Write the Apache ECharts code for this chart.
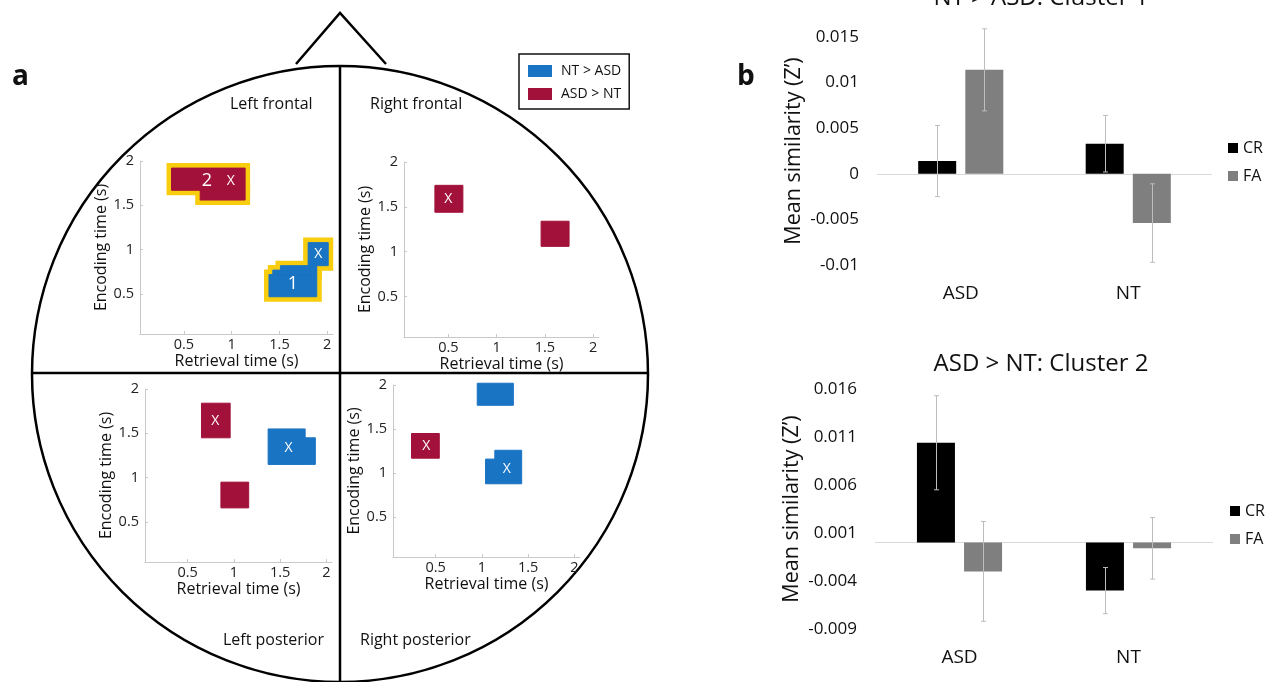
<!DOCTYPE html>
<html>
<head>
<meta charset="utf-8">
<script src="https://cdn.jsdelivr.net/npm/echarts@6/dist/echarts.min.js"></script>
<style>html,body{margin:0;padding:0;background:#fff}#c{width:1269px;height:682px}</style>
</head>
<body>
<div id="c"></div>
<script>
// ---------------- DATA ----------------
const quadrantNames = ['Left frontal', 'Right frontal', 'Left posterior', 'Right posterior'];
const timeTicks = [0.5, 1, 1.5, 2];
const timeRange = [0.04, 2.06];
const encRange = [0.05, 2.0];

// clusters as cell rectangles [retrieval0, retrieval1, encoding0, encoding1] per quadrant
const ntGtAsd = [
  [[1.39, 1.89, 0.47, 0.72], [1.43, 1.89, 0.72, 0.77], [1.51, 1.89, 0.77, 0.82], [1.80, 2.01, 0.82, 1.08]],
  [],
  [[1.37, 1.77, 1.15, 1.55], [1.77, 1.88, 1.15, 1.45]],
  [[0.95, 1.34, 1.77, 2.02], [1.14, 1.43, 0.88, 1.26], [1.04, 1.14, 0.88, 1.16]]
];
const asdGtNt = [
  [[0.37, 1.14, 1.67, 1.92], [0.67, 1.14, 1.56, 1.67]],
  [[0.36, 0.65, 1.44, 1.74], [1.46, 1.75, 1.06, 1.34]],
  [[0.65, 0.96, 1.45, 1.84], [0.86, 1.16, 0.66, 0.95]],
  [[0.24, 0.54, 1.17, 1.45]]
];
// clusters highlighted with yellow outline (cluster 1 and cluster 2)
const highlighted = [
  [[1.39, 1.89, 0.47, 0.72], [1.43, 1.89, 0.72, 0.77], [1.51, 1.89, 0.77, 0.82], [1.80, 2.01, 0.82, 1.08],
   [0.37, 1.14, 1.67, 1.92], [0.67, 1.14, 1.56, 1.67]],
  [], [], []
];
// "X" peak markers [retrieval, encoding]
const peakMarks = [
  [[1.905, 0.95], [0.99, 1.78]],
  [[0.50, 1.59]],
  [[0.80, 1.64], [1.59, 1.33]],
  [[0.40, 1.31], [1.27, 1.05]]
];
// cluster numbers [retrieval, encoding, label]
const clusterNumbers = [
  [[1.64, 0.62, '1'], [0.74, 1.78, '2']],
  [], [], []
];
const legendNames = ['NT > ASD', 'ASD > NT'];

// bar charts
const groups = ['ASD', 'NT'];
const condNames = ['CR', 'FA'];
const c1CR = [0.0014, 0.0033];
const c1FA = [0.0114, -0.0054];
const c1CRerr = [0.0039, 0.0031];
const c1FAerr = [0.0045, 0.0043];
const c2CR = [0.0104, -0.0050];
const c2FA = [-0.0030, -0.0006];
const c2CRerr = [0.0049, 0.0024];
const c2FAerr = [0.0052, 0.0032];
const c2Ticks = [-0.009, -0.004, 0.001, 0.006, 0.011, 0.016];
const titles = ['NT > ASD: Cluster 1', 'ASD > NT: Cluster 2'];

// ---------------- STYLE ----------------
const FONT = '"Open Sans", sans-serif';
const BLUE = '#1a74c4';
const RED = '#a2113a';
const YELLOW = '#f7cd0e';
const BAR_W = 38, BAR_GAP = 0.24;

const miniGrids = [
  {left: 140, top: 161, width: 193, height: 173},
  {left: 404, top: 162, width: 195, height: 175},
  {left: 145, top: 389, width: 187, height: 173},
  {left: 393, top: 385, width: 187, height: 172}
];
const barGrids = [
  {left: 877, top: 37, width: 335, height: 228},
  {left: 875, top: 389, width: 338, height: 240}
];

function rectRender(color, lw) {
  return function (params, api) {
    const p0 = api.coord([api.value(0), api.value(3)]);
    const p1 = api.coord([api.value(1), api.value(2)]);
    return {type: 'rect', shape: {x: p0[0], y: p0[1], width: p1[0] - p0[0], height: p1[1] - p0[1]},
      style: {fill: color, stroke: color, lineWidth: lw}};
  };
}
function textRender(arr, size) {
  return function (params, api) {
    const p = api.coord([api.value(0), api.value(1)]);
    const t = arr[params.dataIndex][2] || 'X';
    return {type: 'text', x: p[0], y: p[1],
      style: {text: t, fill: '#fff', font: size + 'px ' + FONT, align: 'center', verticalAlign: 'middle'}};
  };
}
function errRender(sign) {
  return function (params, api) {
    const cat = api.value(0);
    const lo = api.coord([cat, api.value(1)]);
    const hi = api.coord([cat, api.value(2)]);
    const x = Math.round(lo[0] + sign * (BAR_W + BAR_W * BAR_GAP) / 2) + 0.5;
    const st = {stroke: '#bdbdbd', lineWidth: 1};
    return {type: 'group', children: [
      {type: 'line', shape: {x1: x, y1: lo[1], x2: x, y2: hi[1]}, style: st},
      {type: 'line', shape: {x1: x - 2.5, y1: lo[1], x2: x + 2.5, y2: lo[1]}, style: st},
      {type: 'line', shape: {x1: x - 2.5, y1: hi[1], x2: x + 2.5, y2: hi[1]}, style: st}
    ]};
  };
}

const grid = [], xAxis = [], yAxis = [], series = [];
miniGrids.forEach(function (g, i) {
  grid.push(Object.assign({containLabel: false}, g));
  xAxis.push({
    type: 'value', gridIndex: i, min: timeRange[0], max: timeRange[1],
    name: 'Retrieval time (s)', nameLocation: 'middle', nameGap: 19,
    nameTextStyle: {fontSize: 16, color: '#111', fontFamily: FONT},
    axisLine: {show: true, onZero: false, lineStyle: {color: '#c9c9c9', width: 1}},
    axisTick: {show: true, inside: true, length: 3, customValues: timeTicks, lineStyle: {color: '#c9c9c9'}},
    axisLabel: {customValues: timeTicks, fontSize: 14.5, color: '#222', margin: 3, fontFamily: FONT,
      formatter: function (v) { return String(v); }},
    splitLine: {show: false}
  });
  yAxis.push({
    type: 'value', gridIndex: i, min: encRange[0], max: encRange[1],
    name: 'Encoding time (s)', nameLocation: 'middle', nameGap: 29,
    nameTextStyle: {fontSize: 16, color: '#111', fontFamily: FONT},
    axisLine: {show: true, onZero: false, lineStyle: {color: '#c9c9c9', width: 1}},
    axisTick: {show: true, inside: true, length: 3, customValues: timeTicks, lineStyle: {color: '#c9c9c9'}},
    axisLabel: {customValues: timeTicks, fontSize: 14.5, color: '#222', margin: 6, fontFamily: FONT,
      formatter: function (v) { return String(v); }},
    splitLine: {show: false}
  });
  const enc = {x: [0, 1], y: [2, 3]};
  if (highlighted[i].length) {
    series.push({type: 'custom', name: 'outline', xAxisIndex: i, yAxisIndex: i, silent: true, z: 1,
      encode: enc, data: highlighted[i], renderItem: rectRender(YELLOW, 10)});
  }
  series.push({type: 'custom', name: legendNames[0], xAxisIndex: i, yAxisIndex: i, silent: true, z: 2,
    itemStyle: {color: BLUE}, encode: enc, data: ntGtAsd[i], renderItem: rectRender(BLUE, 1)});
  series.push({type: 'custom', name: legendNames[1], xAxisIndex: i, yAxisIndex: i, silent: true, z: 2,
    itemStyle: {color: RED}, encode: enc, data: asdGtNt[i], renderItem: rectRender(RED, 1)});
  series.push({type: 'custom', name: 'peaks', xAxisIndex: i, yAxisIndex: i, silent: true, z: 3,
    encode: {x: 0, y: 1}, data: peakMarks[i], renderItem: textRender(peakMarks[i], 14)});
  if (clusterNumbers[i].length) {
    series.push({type: 'custom', name: 'numbers', xAxisIndex: i, yAxisIndex: i, silent: true, z: 3,
      encode: {x: 0, y: 1}, data: clusterNumbers[i].map(function (d) { return [d[0], d[1]]; }),
      renderItem: textRender(clusterNumbers[i], 18)});
  }
});

const barSets = [
  {cr: c1CR, fa: c1FA, crE: c1CRerr, faE: c1FAerr, min: -0.01, max: 0.015, interval: 0.005, ticks: null},
  {cr: c2CR, fa: c2FA, crE: c2CRerr, faE: c2FAerr, min: -0.009, max: 0.016, interval: null, ticks: c2Ticks}
];
barSets.forEach(function (b, k) {
  const gi = 4 + k;
  grid.push(Object.assign({containLabel: false}, barGrids[k]));
  xAxis.push({
    type: 'category', gridIndex: gi, data: groups,
    axisLine: {show: false, onZero: false}, axisTick: {show: false},
    axisLabel: {fontSize: 19, color: '#111', margin: 19, fontFamily: FONT}, splitLine: {show: false}
  });
  const ya = {
    type: 'value', gridIndex: gi, min: b.min, max: b.max,
    name: 'Mean similarity (Z\u2019)', nameLocation: 'middle', nameGap: 72,
    nameTextStyle: {fontSize: 21.5, color: '#111', fontFamily: FONT},
    axisLine: {show: false}, axisTick: {show: false}, splitLine: {show: false},
    axisLabel: {fontSize: 17, color: '#111', margin: 18, fontFamily: FONT,
      formatter: function (v) { return b.ticks ? v.toFixed(3) : String(+v.toFixed(4)); }}
  };
  if (b.interval) ya.interval = b.interval;
  if (b.ticks) ya.axisLabel.customValues = b.ticks;
  yAxis.push(ya);
  series.push({type: 'bar', name: condNames[0], xAxisIndex: gi, yAxisIndex: gi, data: b.cr,
    barWidth: BAR_W, barGap: (BAR_GAP * 100) + '%', itemStyle: {color: '#000'}, z: 3,
    markLine: {silent: true, symbol: ['none', 'none'], label: {show: false}, z: 1,
      lineStyle: {color: '#d9d9d9', type: 'solid', width: 1}, data: [{yAxis: 0}]}});
  series.push({type: 'bar', name: condNames[1], xAxisIndex: gi, yAxisIndex: gi, data: b.fa,
    barWidth: BAR_W, barGap: (BAR_GAP * 100) + '%', itemStyle: {color: '#7f7f7f'}, z: 3});
  series.push({type: 'custom', name: 'errCR', xAxisIndex: gi, yAxisIndex: gi, silent: true, z: 4,
    encode: {x: 0, y: [1, 2]},
    data: b.cr.map(function (v, i) { return [i, v - b.crE[i], v + b.crE[i]]; }), renderItem: errRender(-1)});
  series.push({type: 'custom', name: 'errFA', xAxisIndex: gi, yAxisIndex: gi, silent: true, z: 4,
    encode: {x: 0, y: [1, 2]},
    data: b.fa.map(function (v, i) { return [i, v - b.faE[i], v + b.faE[i]]; }), renderItem: errRender(1)});
});

const lineSt = {stroke: '#000', lineWidth: 2.5, fill: null};
const graphic = [
  {type: 'circle', shape: {cx: 340, cy: 374, r: 308}, style: {stroke: '#000', lineWidth: 2.5, fill: null}, z: 0},
  {type: 'line', shape: {x1: 32, y1: 373, x2: 648, y2: 373}, style: lineSt, z: 0},
  {type: 'line', shape: {x1: 340, y1: 66, x2: 340, y2: 682}, style: lineSt, z: 0},
  {type: 'polyline', shape: {points: [[296, 64], [340, 13], [386, 64]]}, style: lineSt, z: 0},
  {type: 'text', x: 230, y: 104, style: {text: quadrantNames[0], font: '16px ' + FONT, fill: '#111', align: 'left', verticalAlign: 'middle'}},
  {type: 'text', x: 370, y: 104, style: {text: quadrantNames[1], font: '16px ' + FONT, fill: '#111', align: 'left', verticalAlign: 'middle'}},
  {type: 'text', x: 324, y: 640, style: {text: quadrantNames[2], font: '16px ' + FONT, fill: '#111', align: 'right', verticalAlign: 'middle'}},
  {type: 'text', x: 360, y: 640, style: {text: quadrantNames[3], font: '16px ' + FONT, fill: '#111', align: 'left', verticalAlign: 'middle'}},
  {type: 'text', x: 12, y: 77, style: {text: 'a', font: 'bold 28px ' + FONT, fill: '#111', align: 'left', verticalAlign: 'middle'}},
  {type: 'text', x: 737, y: 77, style: {text: 'b', font: 'bold 28px ' + FONT, fill: '#111', align: 'left', verticalAlign: 'middle'}}
];

const option = {
  animation: false,
  textStyle: {fontFamily: FONT},
  title: [
    {text: titles[0], left: 1041, top: -14, textAlign: 'center', padding: 0,
      textStyle: {fontSize: 24, fontWeight: 'normal', color: '#111', fontFamily: FONT}},
    {text: titles[1], left: 1041, top: 352, textAlign: 'center', padding: 0,
      textStyle: {fontSize: 24, fontWeight: 'normal', color: '#111', fontFamily: FONT}}
  ],
  legend: [
    {data: legendNames, orient: 'vertical', left: 519, top: 54, itemWidth: 24, itemHeight: 12, itemGap: 9,
      icon: 'rect', borderColor: '#111', borderWidth: 1.5, padding: [10, 8, 8, 9], selectedMode: false,
      textStyle: {fontSize: 14, color: '#111', fontFamily: FONT, padding: [0, 0, 0, 4]}},
    {data: condNames, orient: 'vertical', left: 1228, top: 140, itemWidth: 10, itemHeight: 10, itemGap: 12,
      icon: 'rect', padding: 0, selectedMode: false, textStyle: {fontSize: 16, color: '#111', fontFamily: FONT}},
    {data: condNames, orient: 'vertical', left: 1230, top: 503, itemWidth: 10, itemHeight: 10, itemGap: 12,
      icon: 'rect', padding: 0, selectedMode: false, textStyle: {fontSize: 16, color: '#111', fontFamily: FONT}}
  ],
  grid: grid, xAxis: xAxis, yAxis: yAxis, series: series, graphic: graphic
};
const chart = echarts.init(document.getElementById('c'), null, {renderer: 'canvas'});
chart.setOption(option);
</script>
</body>
</html>
